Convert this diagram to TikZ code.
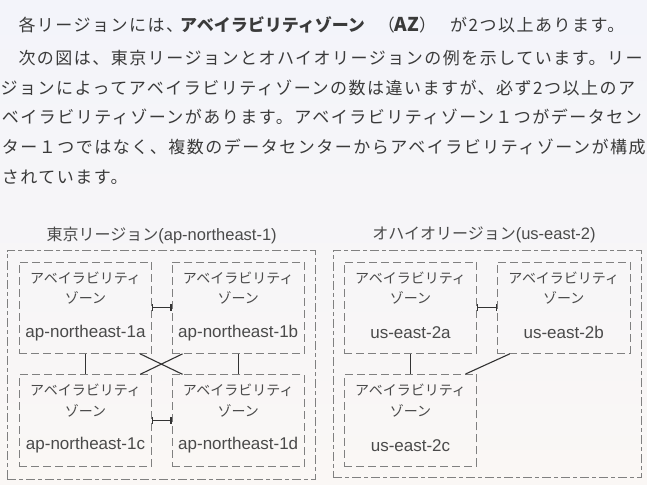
\documentclass[tikz,border=0pt]{standalone}
\usepackage{fontspec}
\setmainfont{Liberation Sans}
\newfontfamily\jpb[LetterSpace=8.8]{Noto Sans CJK JP}
\newfontfamily\jp{Noto Sans CJK JP}
\usetikzlibrary{arrows.meta}
\definecolor{bgtop}{HTML}{F3F4FA}
\definecolor{bgbot}{HTML}{FAF7F5}
\definecolor{bodytxt}{HTML}{3A3A3A}
\definecolor{dtxt}{HTML}{4A4A4A}
\definecolor{dashc}{HTML}{808080}
\definecolor{connc}{HTML}{333333}
\begin{document}
\begin{tikzpicture}[x=1pt,y=-1pt,
  azbox/.style={draw=dashc, line width=0.85pt, dash pattern=on 8pt off 4pt, minimum width=132.5pt, minimum height=91.5pt, inner sep=0pt},
  regbox/.style={draw=dashc, line width=0.85pt, dash pattern=on 9pt off 3pt on 4pt off 3pt, inner sep=0pt},
  conn/.style={draw=connc, line width=1.1pt},
  barconn/.style={conn, {Bar[width=7pt,line width=1.1pt]}-{Bar[width=7pt,line width=1.1pt]}},
  bodyline/.style={inner sep=0pt, anchor=west, text=bodytxt, font=\jpb\fontsize{17}{19}\selectfont},
  boldpart/.style={inner sep=0pt, anchor=west, text=bodytxt, font=\jp\bfseries\fontsize{17}{19}\selectfont},
  jpt/.style={inner sep=0pt, text=dtxt, font=\jp\fontsize{14}{16}\selectfont},
  latt/.style={inner sep=0pt, text=dtxt, font=\fontsize{17}{19}\selectfont},
  reglabel/.style={inner sep=0pt, text=dtxt, font=\fontsize{16.5}{19}\selectfont}
]
\useasboundingbox (0,0) rectangle (647,484);
\clip (0,0) rectangle (647,484);
\shade[top color=bgtop, bottom color=bgbot] (0,0) rectangle (647,484);

% body text
\node[bodyline] (b1a) at (18.3,25) {各リージョンには、};
\node[boldpart] (b1b) at (180,25) {アベイラビリティゾーン};
\node[bodyline, anchor=center] (b1c) at (407,25) {（{\jp\bfseries\fontsize{19}{19}\selectfont AZ}）};
\node[bodyline] (b1d) at (450,25) {が2つ以上あります。};
\node[bodyline] (b2) at (18.3,58) {次の図は、東京リージョンとオハイオリージョンの例を示しています。リー};
\node[bodyline] (b3) at (0.5,87.5) {ジョンによってアベイラビリティゾーンの数は違いますが、必ず2つ以上のア};
\node[bodyline] (b4) at (1.7,117) {ベイラビリティゾーンがあります。アベイラビリティゾーン１つがデータセン};
\node[bodyline] (b5) at (1.7,147) {ター１つではなく、複数のデータセンターからアベイラビリティゾーンが構成};
\node[bodyline] (b6) at (1.7,177) {されています。};

% region boxes
\node[regbox, minimum width=308pt, minimum height=228.3pt] (tokyo) at (161,364.9) {};
\node[regbox, minimum width=308.4pt, minimum height=227pt] (ohio) at (487.5,364.2) {};
\node[reglabel] (tokyolbl) at (161.7,235) {{\jp\fontsize{16}{19}\selectfont 東京リージョン}(ap-northeast-1)};
\node[reglabel] (ohiolbl) at (484,235) {{\jp\fontsize{16}{19}\selectfont オハイオリージョン}(us-east-2)};

% AZ boxes
\foreach \n/\x/\y/\s in {1a/85.5/307.7/ap-northeast-1a, 1b/238.2/307.7/ap-northeast-1b,
    1c/85.5/420.5/ap-northeast-1c, 1d/238.2/420.5/ap-northeast-1d,
    2a/410.5/307.7/us-east-2a, 2b/563.7/307.7/us-east-2b, 2c/410.5/420.2/us-east-2c}{
  \node[azbox] (z\n) at (\x,\y) {};
  \node[jpt] (z\n-l1) at (\x,\y-29.75) {アベイラビリティ};
  \node[jpt] (z\n-l2) at (\x,\y-9.45) {ゾーン};
  \node[latt] (z\n-l3) at (\x,\y+25) {\s};
}

% connectors Tokyo
\draw[barconn] (z1a) -- (z1b);
\draw[barconn] (z1c) -- (z1d);
\draw[conn] (z1a) -- (z1c);
\draw[conn] (z1b) -- (z1d);
\draw[conn] ([xshift=-12pt]z1a.south east) -- ([xshift=11pt]z1d.north west);
\draw[conn] ([xshift=11pt]z1b.south west) -- ([xshift=-12pt]z1c.north east);
% connectors Ohio
\draw[barconn] (z2a) -- (z2b);
\draw[conn] (z2a) -- (z2c);
\draw[conn] ([xshift=12.7pt]z2b.south west) -- ([xshift=-11.7pt]z2c.north east);
\end{tikzpicture}
\end{document}
